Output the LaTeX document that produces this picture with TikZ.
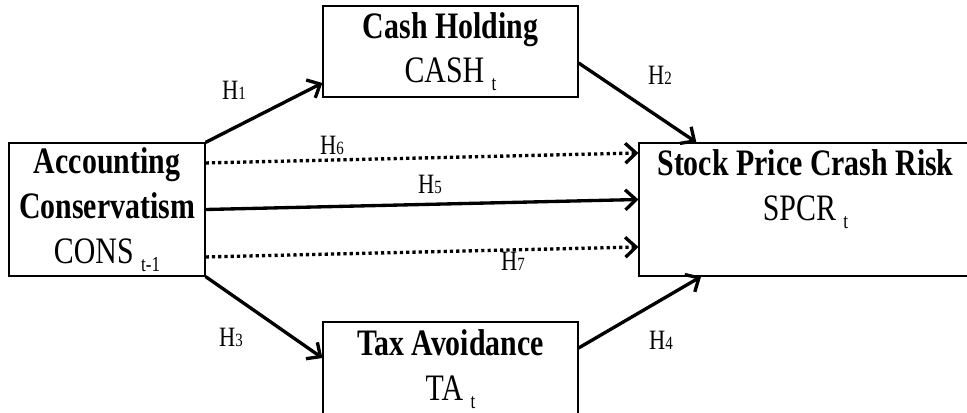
\documentclass[tikz,border=0pt]{standalone}
\usepackage{fontspec}
\setmainfont[FakeStretch=0.8]{Liberation Serif}
\usetikzlibrary{positioning,arrows.meta}
\newcommand{\lowsub}[1]{\raisebox{-6pt}{\fontsize{16}{16}\selectfont #1}}
\newcommand{\hyp}[1]{H{\fontsize{14}{14}\selectfont #1}}

\begin{document}
\begin{tikzpicture}[x=0.75pt,y=0.75pt,
  box/.style={draw,line width=0.9pt,inner sep=0pt,align=center,font=\fontsize{28}{33.5}\selectfont},
  hyplabel/.style={inner sep=1pt,font=\fontsize{21}{21}\selectfont},
  link/.style={line width=2.5pt,-{Straight Barb[length=8pt,width=15pt]}},
  dotlink/.style={link,dash pattern=on 2.4pt off 2.3pt}]
\useasboundingbox (0,0) rectangle (967,412);
\clip (0,0) rectangle (967,412);
% variable boxes
\node[box,minimum width=147pt,minimum height=99.75pt] (cons) at (107,202.5) {\textbf{Accounting}\\\textbf{Conservatism}\\CONS \lowsub{t-1}};
\node[box,minimum width=191.25pt,minimum height=68.25pt] (cash) at (450.5,360.5) {\textbf{Cash Holding}\\CASH \lowsub{t}};
\node[box,minimum width=191.25pt,minimum height=70.5pt] (tax) at (450.5,43) {\textbf{Tax Avoidance}\\TA \lowsub{t}};
\node[box,minimum width=249.75pt,minimum height=99.75pt] (spcr) at (805.5,202.5) {};
\node[box,draw=none,below=5pt of spcr.north] (spcrtext) {\textbf{Stock Price Crash Risk}\\SPCR \lowsub{t}};
% hypotheses
\draw[link] (cons.north east) -- ([yshift=-23.6pt]cash.west);
\draw[link] ([yshift=-8.6pt]cash.east) -- ([xshift=43.5pt]spcr.north west);
\draw[dotlink] ([yshift=34.9pt]cons.east) -- ([yshift=42.4pt]spcr.west);
\draw[link] (cons.east) -- ([yshift=7.5pt]spcr.west);
\draw[dotlink] ([yshift=-35.6pt]cons.east) -- ([yshift=-28.1pt]spcr.west);
\draw[link] (cons.south east) -- ([yshift=8.25pt]tax.west);
\draw[link] ([yshift=15.75pt]tax.east) -- ([xshift=47pt]spcr.south west);
\node[hyplabel] (h1) at (234,322) {\hyp{1}};
\node[hyplabel] (h2) at (660,337) {\hyp{2}};
\node[hyplabel] (h3) at (231,75) {\hyp{3}};
\node[hyplabel] (h4) at (661,72) {\hyp{4}};
\node[hyplabel] (h5) at (430,228) {\hyp{5}};
\node[hyplabel] (h6) at (332,267) {\hyp{6}};
\node[hyplabel] (h7) at (513,151) {\hyp{7}};
\end{tikzpicture}
\end{document}
